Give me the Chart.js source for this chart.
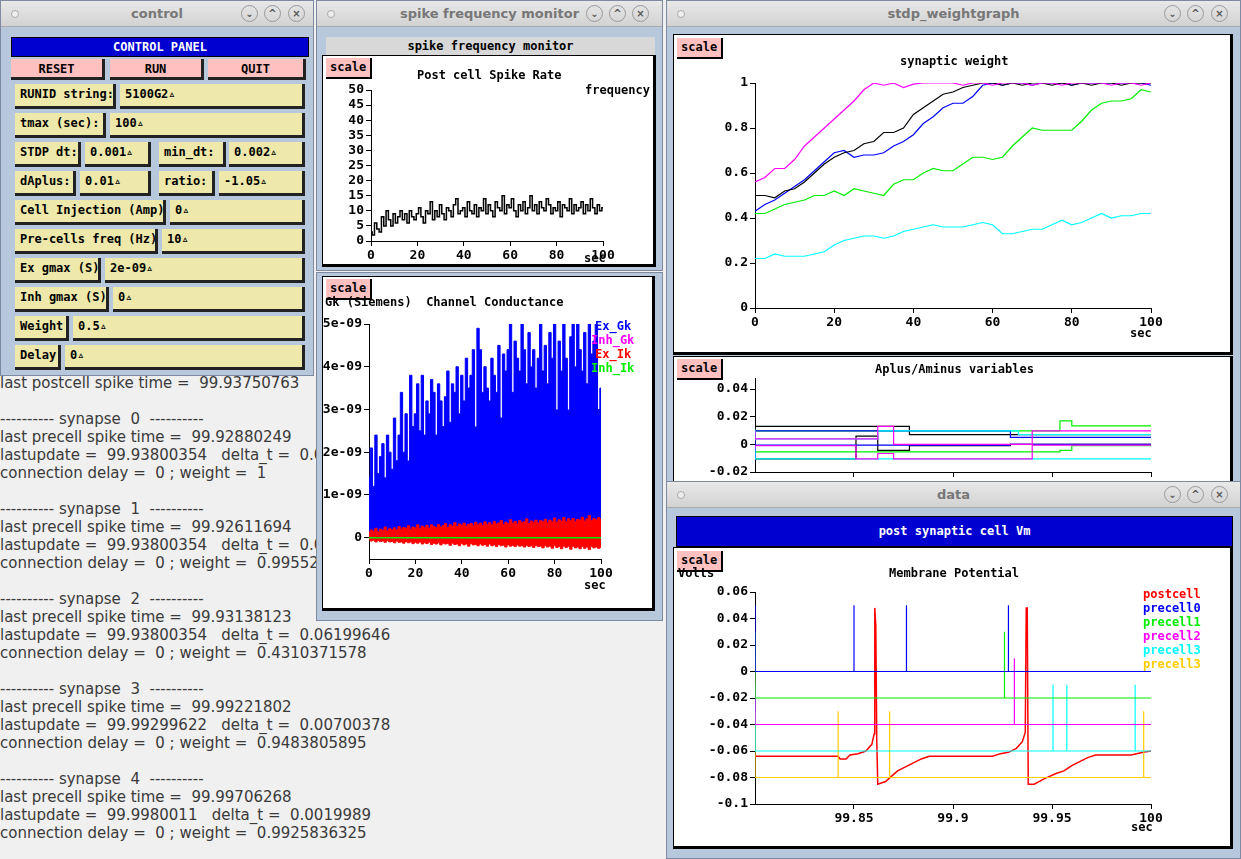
<!DOCTYPE html>
<html><head><meta charset="utf-8">
<script src="https://cdn.jsdelivr.net/npm/chart.js@4"></script>
<style>
body{margin:0;width:1241px;height:859px;position:relative;overflow:hidden;background:#f0f0f0;font-family:"DejaVu Sans Mono",monospace}
.abs{position:absolute}
.win{position:absolute;background:#b7c7dc;border:1px solid #7d8aa0;box-sizing:border-box}
.tb{position:absolute;left:0;top:0;right:0;height:25px;background:linear-gradient(#e8e8e8,#d2d2d2);border-bottom:1px solid #aaa;font:bold 13px "DejaVu Sans",sans-serif;color:#777;text-align:center;line-height:25px}
.tb .dot{position:absolute;left:10px;top:9px;width:6px;height:6px;border-radius:50%;border:1px solid #aaa;background:#eee}
.tb .bt{position:absolute;top:4px;width:15px;height:15px;border-radius:50%;border:1px solid #999;font-size:10px;line-height:15px;color:#555}
.panel{position:absolute;background:#fff;border:1px solid #000;border-right:3px solid #000;border-bottom:3px solid #000;box-sizing:border-box}
.scale{position:absolute;background:#ffc0c0;font:bold 12px "DejaVu Sans Mono",monospace;line-height:19px;padding:0 4px;border-right:2px solid #000;border-bottom:2px solid #000}
.t{position:absolute;font:bold 12px "DejaVu Sans Mono",monospace;color:#000;white-space:pre}
.fld{position:absolute;background:#eee8aa;border-right:3px solid #222;border-bottom:3px solid #222;box-sizing:border-box;font:bold 12px "DejaVu Sans Mono",monospace;line-height:20px;padding-left:5px;white-space:pre}
#txt{position:absolute;left:0;top:374px;width:665px;font:15px "DejaVu Sans",sans-serif;color:#3a3a3a;line-height:18px;white-space:pre}
canvas{position:absolute}
</style></head><body>
<div id="txt"></div>

<div class="win" style="left:0;top:0;width:314px;height:376px">
 <div class="tb"><span class="dot"></span>control<span class="bt" style="left:240px">⌄</span><span class="bt" style="left:263px">^</span><span class="bt" style="left:287px">×</span></div>
 <div class="abs" style="left:10px;top:36px;width:296px;height:18px;background:#0000d0;color:#fff;font:bold 12px 'DejaVu Sans Mono';text-align:center;line-height:18px;border:1px solid #000">CONTROL PANEL</div>
 <div id="ctl"></div>
</div>

<div class="win" style="left:316px;top:0;width:347px;height:271px">
 <div class="tb"><span class="dot"></span>spike frequency monitor<span class="bt" style="left:269px">⌄</span><span class="bt" style="left:292px">^</span><span class="bt" style="left:315px">×</span></div>
 <div class="abs" style="left:9px;top:36px;width:329px;height:18px;background:#d8d8d8;font:bold 12px 'DejaVu Sans Mono';text-align:center;line-height:18px">spike frequency monitor</div>
</div>
<div class="panel" style="left:322px;top:55px;width:334px;height:212px"></div>
<canvas id="c1" style="left:322px;top:55px" width="331" height="209"></canvas>
<div class="scale" style="left:326px;top:58px">scale</div>
<div class="t" style="left:417px;top:68px">Post cell Spike Rate</div>
<div class="t" style="left:585px;top:83px">frequency</div>
<div class="t" style="left:584px;top:251px">sec</div>

<div class="win" style="left:316px;top:272px;width:347px;height:349px"></div>
<div class="panel" style="left:322px;top:276px;width:333px;height:335px"></div>
<canvas id="c2" style="left:322px;top:276px" width="330" height="332"></canvas>
<div class="scale" style="left:326px;top:279px">scale</div>
<div class="t" style="left:325px;top:295px">Gk (Siemens)  Channel Conductance</div>
<div class="t" style="left:584px;top:578px">sec</div>
<div class="t" style="left:595px;top:319px;color:#0000ff">Ex_Gk</div>
<div class="t" style="left:591px;top:333px;color:#ff00ff">Inh_Gk</div>
<div class="t" style="left:595px;top:347px;color:#ff0000">Ex_Ik</div>
<div class="t" style="left:591px;top:361px;color:#00ee00">Inh_Ik</div>

<div class="win" style="left:666px;top:0;width:575px;height:482px">
 <div class="tb"><span class="dot"></span>stdp_weightgraph<span class="bt" style="left:497px">⌄</span><span class="bt" style="left:520px">^</span><span class="bt" style="left:544px">×</span></div>
</div>
<div class="panel" style="left:673px;top:34px;width:560px;height:321px"></div>
<canvas id="c3" style="left:674px;top:35px" width="556" height="317"></canvas>
<div class="scale" style="left:677px;top:38px">scale</div>
<div class="t" style="left:900px;top:54px">synaptic weight</div>
<div class="t" style="left:1130px;top:326px">sec</div>
<div class="panel" style="left:673px;top:356px;width:560px;height:140px"></div>
<canvas id="c4" style="left:674px;top:357px" width="556" height="135"></canvas>
<div class="scale" style="left:677px;top:359px">scale</div>
<div class="t" style="left:875px;top:362px">Aplus/Aminus variables</div>

<div class="win" style="left:666px;top:481px;width:575px;height:378px">
 <div class="tb"><span class="dot"></span>data<span class="bt" style="left:497px">⌄</span><span class="bt" style="left:520px">^</span><span class="bt" style="left:544px">×</span></div>
 <div class="abs" style="left:9px;top:34px;width:555px;height:29px;background:#0000d0;color:#fff;font:bold 12px 'DejaVu Sans Mono';text-align:center;line-height:28px;border:1px solid #000">post synaptic cell Vm</div>
</div>
<div class="panel" style="left:673px;top:547px;width:560px;height:302px"></div>
<canvas id="c5" style="left:674px;top:548px" width="556" height="298"></canvas>
<div class="scale" style="left:677px;top:551px">scale</div>
<div class="t" style="left:678px;top:566px">Volts</div>
<div class="t" style="left:889px;top:566px">Membrane Potential</div>
<div class="t" style="left:1131px;top:820px">sec</div>
<div id="leg5"></div>

<script>
// ---------- DATA ----------
const secs = Array.from({length:101},(_, i)=>i);
const spikeRate = [3,2,6,4,3,8,5,10,7,5,9,6,8,10,7,9,6,10,8,7,9,11,8,6,10,9,13,7,10,8,12,9,7,11,10,8,12,14,9,10,11,8,13,10,9,12,8,11,10,14,9,12,10,8,13,11,10,15,9,12,11,14,10,8,12,10,13,9,11,15,10,12,9,13,11,10,14,12,9,11,10,13,8,12,11,10,14,9,12,10,11,13,9,12,10,14,11,9,12,10,11];
const exGk = [1.4,2.1,1.2,2.4,1.5,1.9,2.2,1.4,2.4,2.0,1.6,2.8,1.8,2.4,3.4,2.0,2.9,1.6,3.8,2.6,2.9,3.6,2.5,3.8,2.4,3.2,2.9,3.7,3.4,2.4,3.6,3.2,2.6,3.3,3.9,2.7,3.6,3.4,4.0,2.9,3.8,3.2,4.2,3.5,3.8,4.4,2.5,4.9,4.4,3.4,4.0,3.5,3.2,4.2,3.8,3.4,4.5,2.8,4.3,3.9,4.4,5.0,3.4,4.6,4.2,3.9,5.0,4.4,3.6,4.8,4.0,4.4,3.5,4.2,5.0,3.9,4.5,3.6,4.8,4.2,5.0,2.4,4.6,3.9,5.0,4.2,2.4,4.7,5.0,4.0,5.0,4.4,3.9,4.8,3.6,5.0,4.3,4.6,5.0,3.0,3.5];
const exGkBase = [0.8,0.9,1.0,1.1,1.1,1.2,1.2,1.3,1.4,1.4,1.5,1.5,1.6,1.6,1.7,1.7,1.8,1.8,1.9,1.9,2.0,2.0,2.0,2.1,2.1,2.1,2.2,2.2,2.2,2.3,2.3,2.3,2.3,2.4,2.4,2.4,2.4,2.5,2.5,2.5,2.5,2.5,2.6,2.6,2.6,2.6,2.6,2.6,2.7,2.7,2.7,2.7,2.7,2.7,2.7,2.8,2.8,2.8,2.8,2.8,2.8,2.8,2.8,2.9,2.9,2.9,2.9,2.9,2.9,2.9,2.9,2.9,2.9,3.0,3.0,3.0,3.0,3.0,3.0,3.0,3.0,3.0,3.0,3.0,3.0,3.0,3.0,3.0,3.0,3.0,3.0,3.0,3.0,3.0,3.0,3.0,3.0,3.0,3.0,3.0,3.0];
const exIk = [0.12,0.18,0.15,0.22,0.14,0.2,0.17,0.25,0.16,0.21,0.19,0.23,0.18,0.26,0.2,0.24,0.22,0.28,0.2,0.25,0.23,0.3,0.21,0.27,0.24,0.29,0.22,0.3,0.26,0.24,0.31,0.25,0.28,0.33,0.24,0.3,0.27,0.35,0.26,0.32,0.29,0.34,0.27,0.31,0.33,0.28,0.36,0.3,0.34,0.29,0.37,0.31,0.35,0.3,0.38,0.32,0.34,0.4,0.31,0.36,0.33,0.42,0.34,0.38,0.32,0.4,0.35,0.37,0.44,0.33,0.39,0.36,0.41,0.34,0.4,0.37,0.43,0.35,0.41,0.38,0.46,0.36,0.42,0.39,0.47,0.37,0.44,0.4,0.45,0.38,0.43,0.41,0.48,0.39,0.44,0.52,0.4,0.45,0.42,0.47,0.43];
const exIkNeg = [-0.05,-0.08,-0.06,-0.1,-0.07,-0.09,-0.08,-0.11,-0.07,-0.1,-0.09,-0.12,-0.08,-0.11,-0.1,-0.13,-0.09,-0.12,-0.1,-0.14,-0.11,-0.13,-0.1,-0.15,-0.12,-0.14,-0.11,-0.16,-0.13,-0.15,-0.12,-0.17,-0.13,-0.15,-0.14,-0.18,-0.13,-0.16,-0.15,-0.19,-0.14,-0.17,-0.15,-0.2,-0.14,-0.17,-0.16,-0.19,-0.15,-0.18,-0.16,-0.2,-0.15,-0.19,-0.17,-0.21,-0.16,-0.19,-0.18,-0.22,-0.17,-0.2,-0.18,-0.21,-0.17,-0.2,-0.19,-0.22,-0.18,-0.21,-0.19,-0.23,-0.18,-0.21,-0.2,-0.24,-0.19,-0.22,-0.2,-0.25,-0.19,-0.23,-0.21,-0.26,-0.2,-0.23,-0.21,-0.27,-0.2,-0.24,-0.22,-0.26,-0.21,-0.25,-0.22,-0.28,-0.21,-0.24,-0.22,-0.25,-0.23];
const gkTicks = [0,1,2,3,4,5];
const wX = [0,2.5,5,7.5,10,12.5,15,17.5,20,22.5,25,27.5,30,32.5,35,37.5,40,42.5,45,47.5,50,52.5,55,57.5,60,62.5,65,67.5,70,72.5,75,77.5,80,82.5,85,87.5,90,92.5,95,97.5,100];
const wBlack = [.50,.50,.49,.52,.53,.56,.60,.64,.67,.69,.70,.73,.74,.78,.78,.80,.86,.89,.92,.95,.96,.98,.99,1,1,.99,1,.99,1,1,.99,1,.99,1,.99,1,1,.99,1,1,1];
const wBlue = [.43,.46,.48,.51,.54,.57,.61,.65,.69,.70,.67,.68,.68,.69,.72,.74,.77,.82,.85,.89,.91,.91,.94,.99,1,.99,1,1,.99,1,1,1,.99,1,1,1,1,1,1,1,.99];
const wMag = [.56,.58,.62,.62,.66,.72,.76,.80,.84,.88,.92,.97,1,.99,1,.98,.995,1,1,1,1,.99,1,1,.99,1,1,1,.99,1,1,.99,1,1,1,1,.99,1,1,.99,1];
const wGreen = [.42,.42,.44,.46,.47,.48,.50,.50,.52,.50,.53,.52,.51,.50,.55,.57,.57,.60,.62,.61,.61,.64,.67,.67,.66,.67,.72,.76,.80,.79,.79,.79,.79,.83,.88,.91,.92,.92,.93,.97,.96];
const wCyan = [.22,.22,.24,.23,.23,.23,.24,.25,.28,.30,.31,.32,.32,.31,.32,.34,.35,.36,.37,.36,.36,.36,.37,.38,.37,.33,.33,.34,.35,.35,.37,.39,.37,.38,.40,.42,.40,.41,.41,.42,.42];
const aBlackP = [[99.8,.006],[99.878,.013],[99.94,.007],[100,.007]];
const aBlackM = [[99.8,.006],[99.851,-.0105],[99.862,.006],[99.878,-.0044],[99.929,-.001],[99.94,0],[100,0]];
const aBlueP = [[99.8,-.0105],[99.929,.0098],[99.94,.005],[100,.005]];
const aBlueM = [[99.8,-.0105],[99.929,-.0005],[99.94,0],[100,0]];
const aCyanP = [[99.8,.011],[99.862,.004],[99.933,.0098],[99.94,.007],[100,.007]];
const aCyanM = [[99.8,-.001],[99.862,-.0105],[99.933,-.0105],[99.94,-.0105],[100,-.0105]];
const aMagP = [[99.8,.0098],[99.862,.004],[99.870,.013],[99.94,0],[99.995,.0098],[100,.0098]];
const aMagM = [[99.8,-.0035],[99.851,-.001],[99.862,-.0105],[99.870,-.0066],[99.94,-.0105],[99.995,-.0005],[100,-.0005]];
const aGreenP = [[99.8,.0005],[99.954,.0098],[99.960,.017],[99.995,.0134],[100,.0134]];
const aGreenM = [[99.8,-.0105],[99.954,-.0055],[99.960,-.0044],[99.995,-.001],[100,-.001]];
const aTicks = [-0.02,0,0.02,0.04];
const vPost = [[99.8,-.064],[99.842,-.064],[99.843,-.066],[99.846,-.066],[99.848,-.063],[99.852,-.062],[99.856,-.06],[99.859,-.055],[99.8602,-.047],[99.8605,.048],[99.861,.035],[99.8615,-.052],[99.862,-.085],[99.866,-.083],[99.869,-.079],[99.872,-.075],[99.876,-.072],[99.88,-.069],[99.884,-.066],[99.888,-.064],[99.92,-.064],[99.924,-.062],[99.928,-.061],[99.932,-.058],[99.935,-.053],[99.9365,-.046],[99.937,.048],[99.9375,.048],[99.938,-.085],[99.941,-.085],[99.946,-.081],[99.952,-.077],[99.956,-.075],[99.96,-.071],[99.964,-.068],[99.968,-.065],[99.972,-.063],[99.99,-.063],[99.996,-.061],[100,-.06]];
const preLevels = [0,-.02,-.04,-.06,-.08];
const preTop = [.05,.03,.01,-.01,-.03];
const preSpikes = [[99.85,99.8765,99.928],[99.926],[99.931],[99.9505,99.9575,99.992],[99.842,99.868,99.9963]];
const preNames = ['postcell','precell0','precell1','precell2','precell3','precell3'];
const preColors = ['#ff0000','#0000ff','#00ee00','#ff00ff','#00ffff','#ffcc00'];
const xTicksMs = [99.85,99.9,99.95,100];

document.getElementById('txt').textContent =
`last postcell spike time =  99.93750763

---------- synapse  0  ----------
last precell spike time =  99.92880249
lastupdate =  99.93800354   delta_t =  0.00920105
connection delay =  0 ; weight =  1

---------- synapse  1  ----------
last precell spike time =  99.92611694
lastupdate =  99.93800354   delta_t =  0.0118866
connection delay =  0 ; weight =  0.9955236912

---------- synapse  2  ----------
last precell spike time =  99.93138123
lastupdate =  99.93800354   delta_t =  0.06199646
connection delay =  0 ; weight =  0.4310371578

---------- synapse  3  ----------
last precell spike time =  99.99221802
lastupdate =  99.99299622   delta_t =  0.00700378
connection delay =  0 ; weight =  0.9483805895

---------- synapse  4  ----------
last precell spike time =  99.99706268
lastupdate =  99.9980011   delta_t =  0.0019989
connection delay =  0 ; weight =  0.9925836325`;

const ctl = document.getElementById('ctl');
function box(x,y,w,h,t,style){const d=document.createElement('div');d.className='fld';d.style.cssText+=`left:${x}px;top:${y}px;width:${w}px;height:${h}px;`+(style||'');d.textContent=t;ctl.appendChild(d);}
box(10,58,94,21,'RESET','background:#ffc0c0;text-align:center;padding:0');
box(109,58,94,21,'RUN','background:#ffc0c0;text-align:center;padding:0');
box(207,58,98,21,'QUIT','background:#ffc0c0;text-align:center;padding:0');
const rows=[[83,'RUNID string:',115,'5100G2'],[112,'tmax (sec):',105,'100'],[199,'Cell Injection (Amp)',165,'0'],[228,'Pre-cells freq (Hz)',157,'10'],[257,'Ex gmax (S)',100,'2e-09'],[286,'Inh gmax (S)',108,'0'],[315,'Weight',68,'0.5'],[344,'Delay',60,'0']];
rows.forEach(r=>{box(14,r[0],r[2]-14,25,r[1]);box(r[2]+4,r[0],304-r[2]-4,25,r[3]+'\u25B5');});
[[141,'STDP dt:',80,'0.001',150],[170,'dAplus:',75,'0.01',150]].forEach(r=>{box(14,r[0],r[2]-14,25,r[1]);box(r[2]+4,r[0],r[4]-r[2]-4,25,r[3]+'\u25B5');});
box(158,141,67,25,'min_dt:');box(228,141,76,25,'0.002\u25B5');
box(158,170,56,25,'ratio:');box(218,170,86,25,'-1.05\u25B5');

let lg='';preNames.forEach((n,i)=>{lg+=`<div class="t" style="left:1143px;top:${587+i*14}px;color:${preColors[i]}">${n}</div>`});
document.getElementById('leg5').innerHTML=lg;

const F={family:'DejaVu Sans Mono',size:13,weight:'bold'};
function axes(xmin,xmax,xstep,ymin,ymax,ystep,yw,xh,opts){
  opts=opts||{};
  return {
    x:{type:'linear',min:xmin,max:xmax,afterFit:s=>{s.height=xh},
       border:{color:'#000'},grid:{drawOnChartArea:false,color:'#000',tickLength:5},
       ticks:{color:'#000',font:F,stepSize:xstep,autoSkip:false,maxRotation:0,padding:2,callback:opts.xcb||(v=>v)},
       afterBuildTicks:opts.xt?(s=>{s.ticks=opts.xt.map(v=>({value:v}))}):undefined},
    y:{min:ymin,max:ymax,afterFit:s=>{s.width=yw},
       border:{color:'#000'},grid:{drawOnChartArea:false,color:'#000',tickLength:5},
       ticks:{color:'#000',font:F,stepSize:ystep,autoSkip:false,padding:2,callback:opts.ycb||(v=>v)},
       afterBuildTicks:opts.yt?(s=>{s.ticks=opts.yt.map(v=>({value:v}))}):undefined}
  };
}
const base=(pad)=>({responsive:false,animation:false,layout:{padding:pad},plugins:{legend:{display:false},tooltip:{enabled:false}},elements:{point:{radius:0},line:{borderWidth:1.2,tension:0}}});
const xy=(xs,ys)=>xs.map((x,i)=>({x,y:ys[i]}));
const pts=a=>a.map(p=>({x:p[0],y:p[1]}));

new Chart(c1,{type:'line',data:{datasets:[{data:xy(secs,spikeRate),borderColor:'#000',stepped:'middle',borderWidth:1.5}]},
 options:{...base({top:35,right:50}),scales:axes(0,100,20,0,50,5,49,23)}});

const g9=v=>v===0?'0':v+'e-09';
new Chart(c2,{type:'line',data:{datasets:[
 {data:xy(secs,exGkBase),borderWidth:0,backgroundColor:'#0000ff',fill:'origin',order:6},
 {data:xy(secs,exGk),borderColor:'#0000ff',backgroundColor:'#0000ff',fill:'origin',borderWidth:1,stepped:'middle',order:5},
 {data:xy(secs,exIk),borderColor:'#ff0000',backgroundColor:'#ff0000',fill:'origin',borderWidth:1,stepped:'middle',order:3},
 {data:xy(secs,exIkNeg),borderColor:'#ff0000',backgroundColor:'#ff0000',fill:'origin',borderWidth:1,stepped:'middle',order:2},
 {data:xy([0,100],[0,0]),borderColor:'#00ee00',borderWidth:1.5,order:1}
]},options:{...base({top:48,right:51}),scales:axes(0,100,20,-0.5,5,1,47,49,{ycb:g9,yt:gkTicks})}});

new Chart(c3,{type:'line',data:{datasets:[
 [wCyan,'#00ffff'],[wGreen,'#00ee00'],[wBlue,'#0000ff'],[wBlack,'#000'],[wMag,'#ff00ff']
].map(([d,c],i)=>({data:xy(wX,d),borderColor:c,order:10-i}))},
 options:{...base({top:48,right:79}),scales:axes(0,100,20,0,1,0.2,81,44,{ycb:v=>+v.toFixed(1)})}});

new Chart(c4,{type:'line',data:{datasets:[
 [aGreenP,'#00ee00'],[aGreenM,'#00ee00'],[aBlackP,'#000'],[aBlackM,'#000'],[aBlueP,'#0000ff'],[aBlueM,'#0000ff'],[aCyanP,'#00ffff'],[aCyanM,'#00ffff'],[aMagP,'#ff00ff'],[aMagM,'#ff00ff']
].map(([d,c],i)=>({data:pts(d),borderColor:c,stepped:'after',order:20-i}))},
 options:{...base({top:21,right:79}),scales:axes(99.8,100,0.05,-0.02,0.048,0.02,81,20,{xt:xTicksMs,yt:aTicks,ycb:v=>+v.toFixed(2)})}});

const ds5=[];
preLevels.forEach((lv,i)=>{
  const d=[{x:99.8,y:preTop[i]},{x:99.8,y:lv}];
  preSpikes[i].forEach(t=>{d.push({x:t,y:lv},{x:t,y:preTop[i]},{x:t,y:lv});});
  d.push({x:100,y:lv});
  ds5.push({data:d,borderColor:preColors[i+1],borderWidth:1.2});
});
ds5.push({data:pts(vPost),borderColor:'#ff0000',borderWidth:1.5});
new Chart(c5,{type:'line',data:{datasets:ds5},
 options:{...base({top:44,right:79}),scales:axes(99.8,100,0.05,-0.1,0.06,0.02,81,42,{xt:xTicksMs,ycb:v=>+v.toFixed(2)})}});
</script>
</body></html>
